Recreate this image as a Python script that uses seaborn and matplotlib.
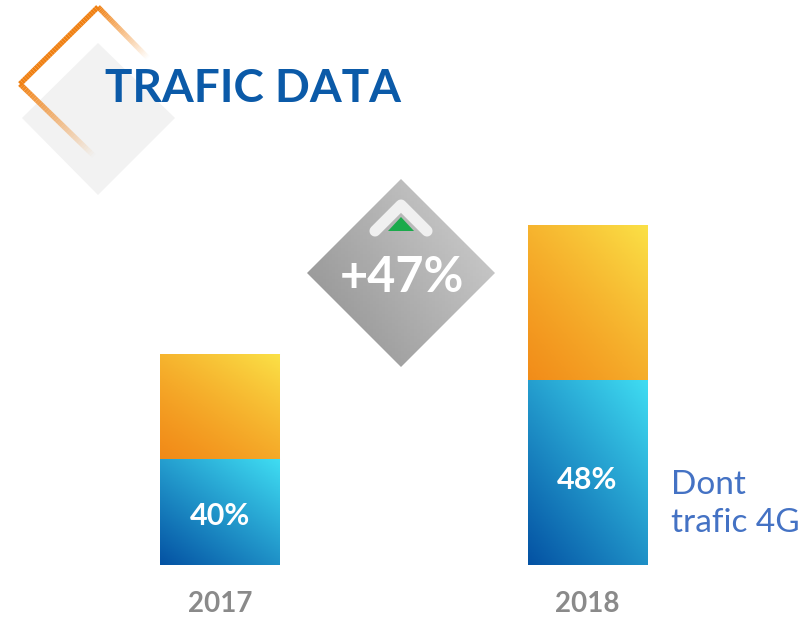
import matplotlib
matplotlib.use("Agg")
import matplotlib.pyplot as plt
import numpy as np
import seaborn as sns
from matplotlib.collections import LineCollection
from matplotlib.colors import to_rgb
from matplotlib.patches import Polygon

# data (bar heights, arbitrary volume units)
years = ["2017", "2018"]
traffic_4g = [106, 185]
traffic_other = [105, 155]
share_labels = ["40%", "48%"]
growth_label = "+47%"

totals = [a + b for a, b in zip(traffic_4g, traffic_other)]

W, H = 807, 618
sns.set_theme(style="white")
plt.rcParams["font.family"] = ["Lato", "DejaVu Sans"]

fig = plt.figure(figsize=(W / 100, H / 100), dpi=100)
fig.patch.set_facecolor("white")


def gradient(c_low, c_high, nx=60, ny=60, wx=0.35, wy=0.65, power=1.0):
    # bottom-left -> top-right, rows ordered bottom to top
    xs = np.linspace(0, 1, nx)
    ys = np.linspace(0, 1, ny)
    X, Y = np.meshgrid(xs, ys)
    t = ((wx * X + wy * Y) ** power)[..., None]
    lo = np.array(to_rgb(c_low))
    hi = np.array(to_rgb(c_high))
    return lo * (1 - t) + hi * t


# background decoration (pixel coordinates, y down)
deco = fig.add_axes([0, 0, 1, 1], zorder=0)
deco.set_xlim(0, W)
deco.set_ylim(H, 0)
deco.axis("off")

deco.add_patch(Polygon([(98, 43), (175, 118), (98, 195), (22, 118)],
                       closed=True, facecolor="#f2f2f2", edgecolor="none"))

orange = np.array(to_rgb("#f08012"))
path = [(148, 58), (98, 7), (20, 84), (94, 156)]
segs, cols = [], []
steps = 40
for i in range(3):
    p0, p1 = np.array(path[i]), np.array(path[i + 1])
    for k in range(steps):
        a = p0 + (p1 - p0) * k / steps
        b = p0 + (p1 - p0) * (k + 1) / steps
        segs.append([a, b])
        if i == 0:
            alpha = (k + 0.5) / steps
        elif i == 2:
            alpha = 1 - (k + 0.5) / steps
        else:
            alpha = 1.0
        cols.append((*orange, alpha))
deco.add_collection(LineCollection(segs, colors=cols, linewidths=3.8,
                                   capstyle="butt"))

deco.text(105, 102, "TRAFIC DATA", color="#0b5aa8", fontsize=33,
          fontweight="bold", ha="left", va="baseline")

# growth badge
cx, cy, r = 401, 273, 94
badge = Polygon([(cx, cy - r), (cx + r, cy), (cx, cy + r), (cx - r, cy)],
                closed=True, facecolor="none", edgecolor="none")
deco.add_patch(badge)
img = gradient("#8e8e8e", "#d2d2d2", wx=0.6, wy=0.4)[::-1]
deco.imshow(img, extent=(cx - r, cx + r, cy + r, cy - r), origin="upper",
            aspect="auto", clip_path=badge, zorder=2)
deco.plot([375, 401, 427], [231, 205, 231], color="#f0f0f0", lw=8,
          solid_capstyle="round", solid_joinstyle="round", zorder=3)
deco.add_patch(Polygon([(388, 231), (414, 231), (401, 217)], closed=True,
                       facecolor="#1aaa4b", edgecolor="none", zorder=4))
deco.text(cx + 1, 277, growth_label, color="white", fontsize=35,
          fontweight="bold", ha="center", va="center", zorder=5)

deco.text(671, 532, "Dont\ntrafic 4G", color="#4472c4", fontsize=24,
          ha="left", va="baseline", linespacing=1.32, zorder=5)

# stacked bars
ax = fig.add_axes([36.25 / W, 53 / H, 735 / W, 400 / H], zorder=1)
ax.patch.set_alpha(0)
bw = 120 / 367.5
sns.barplot(x=years, y=totals, color="#f4a82c", width=bw, ax=ax,
            saturation=1)
n_top = len(ax.patches)
sns.barplot(x=years, y=traffic_4g, color="#1e8fcf", width=bw, ax=ax,
            saturation=1)

for i, p in enumerate(ax.patches):
    x0, y0 = p.get_x(), p.get_y()
    x1, y1 = x0 + p.get_width(), y0 + p.get_height()
    if i < n_top:
        g = gradient("#ef740c", "#fbe046", wx=0.28, wy=0.72, power=1.6)
    else:
        g = gradient("#0452a3", "#3fdcf2", wx=0.45, wy=0.55)
    ax.imshow(g, extent=(x0, x1, y0, y1), origin="lower", aspect="auto",
              clip_path=p, zorder=p.get_zorder() + 0.1 + i * 0.01)

for i, lab in enumerate(share_labels):
    ax.text(i, traffic_4g[i] * 0.46, lab, color="white", fontsize=22,
            fontweight="bold", ha="center", va="center", zorder=10)

ax.set_xlim(-0.5, len(years) - 0.5)
ax.set_ylim(0, 400)
ax.set_yticks([])
ax.set_xlabel("")
ax.set_ylabel("")
ax.tick_params(axis="x", length=0, pad=19, labelsize=20, labelcolor="#8a8a8a")
for t in ax.get_xticklabels():
    t.set_fontweight("bold")
sns.despine(ax=ax, left=True, bottom=True)

fig.savefig("out.png", dpi=100)
